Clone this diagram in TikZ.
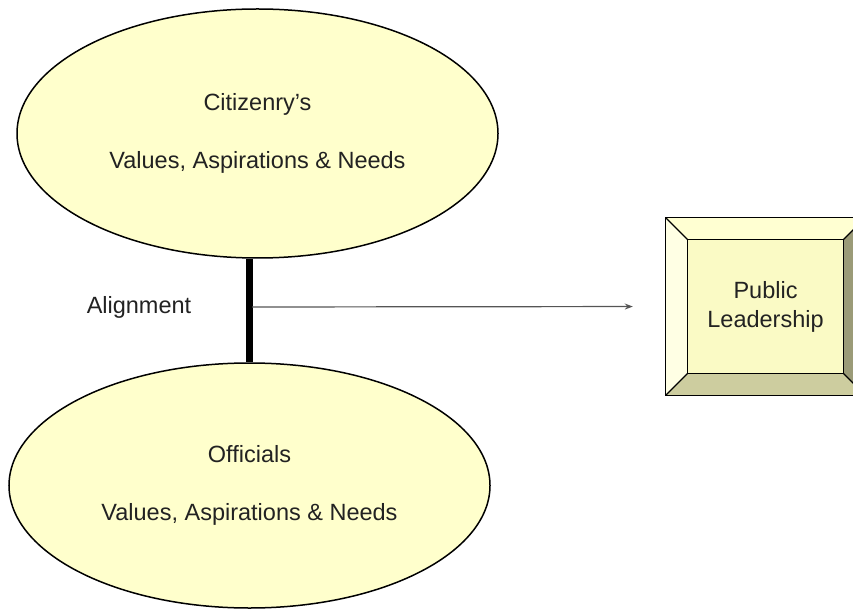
\documentclass[tikz,border=0pt]{standalone}
\usepackage{fontspec}
\setmainfont{Liberation Sans}
\usetikzlibrary{shapes.geometric,arrows.meta}
\definecolor{paleyellow}{HTML}{FFFFCC}
\definecolor{facecol}{HTML}{FAFAC5}
\definecolor{bevtop}{HTML}{FFFFD2}
\definecolor{bevleft}{HTML}{FFFFE4}
\definecolor{bevbottom}{HTML}{CDCD9F}
\definecolor{bevright}{HTML}{9B9B78}
\definecolor{inkgray}{HTML}{222222}
\definecolor{arrowgray}{HTML}{555555}
\tikzset{
  labeltext/.style={font=\fontsize{23.5}{28}\selectfont, text=inkgray},
  bubble/.style={ellipse, draw=black, line width=1.5pt, fill=paleyellow,
    inner sep=0pt, align=center, labeltext},
  bevel/.style={draw=black, line width=1.3pt, line join=miter},
  link/.style={draw=black, line width=7.5pt},
  flow/.style={draw=arrowgray, line width=1.2pt,
    -{Stealth[length=8pt,width=6pt]}},
}
\begin{document}
\begin{tikzpicture}[x=1pt,y=-1pt]
  \useasboundingbox (0,0) rectangle (853,609);

  % the two value ellipses
  \node[bubble, minimum width=481pt, minimum height=249pt] (cit) at (257.5,133.5)
    {Citizenry’s\\[30pt]Values, Aspirations \& Needs};
  \node[bubble, minimum width=481pt, minimum height=245pt] (off) at (249.5,485.5)
    {Officials\\[30pt]Values, Aspirations \& Needs};

  % alignment bar joining them
  \draw[link] (off.north |- cit.south) -- (off.north);
  \coordinate (mid) at (252,307);
  \node[labeltext] (align) at (139,307) {Alignment};

  % bevelled box
  \node[minimum width=199pt, minimum height=177pt, inner sep=0pt] (box) at (765.5,306.5) {};
  \node[minimum width=155pt, minimum height=133pt, inner sep=0pt] (face) at (765.5,306.5) {};
  \fill[bevtop] (box.north west) -- (box.north east) -- (face.north east) -- (face.north west) -- cycle;
  \fill[bevleft] (box.north west) -- (face.north west) -- (face.south west) -- (box.south west) -- cycle;
  \fill[bevbottom] (box.south west) -- (face.south west) -- (face.south east) -- (box.south east) -- cycle;
  \fill[bevright] (box.north east) -- (box.south east) -- (face.south east) -- (face.north east) -- cycle;
  \fill[facecol] (face.north west) rectangle (face.south east);
  \draw[bevel] (box.north west) rectangle (box.south east);
  \draw[bevel] (face.north west) rectangle (face.south east);
  \draw[bevel] (box.north west) -- (face.north west);
  \draw[bevel] (box.north east) -- (face.north east);
  \draw[bevel] (box.south west) -- (face.south west);
  \draw[bevel] (box.south east) -- (face.south east);
  \node[align=center, font=\fontsize{23.5}{29}\selectfont, text=inkgray] (pl) at (face.center)
    {Public\\Leadership};

  % arrow to the box
  \draw[flow, shorten >=33pt] (mid) -- (box.west);
\end{tikzpicture}
\end{document}
